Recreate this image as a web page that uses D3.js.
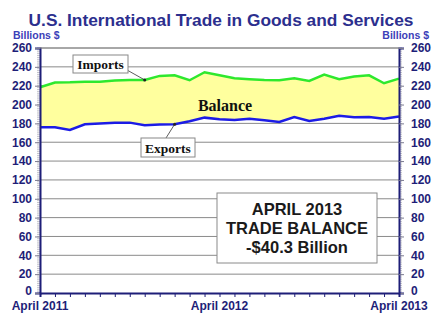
<!DOCTYPE html>
<html><head><meta charset="utf-8">
<script src="https://cdn.jsdelivr.net/npm/d3@7/dist/d3.min.js"></script>
<style>body{margin:0;background:#fff}svg{display:block}</style>
</head><body>
<svg id="c" width="442" height="323"></svg>
<script>
const months = ["Apr 2011","May 2011","Jun 2011","Jul 2011","Aug 2011","Sep 2011","Oct 2011","Nov 2011","Dec 2011",
  "Jan 2012","Feb 2012","Mar 2012","Apr 2012","May 2012","Jun 2012","Jul 2012","Aug 2012","Sep 2012","Oct 2012",
  "Nov 2012","Dec 2012","Jan 2013","Feb 2013","Mar 2013","Apr 2013"];
const imports = [218.4,223.3,223.6,224.3,224.3,225.4,226.1,226.1,230.4,231.1,225.8,234.3,231.0,227.9,226.9,226.1,225.8,227.9,225.0,231.8,226.9,229.7,231.0,222.6,227.5];
const exports = [175.9,175.9,173.0,179.1,179.8,180.8,180.8,178.0,178.7,179.1,182.3,186.1,184.4,183.6,185.0,183.3,181.5,186.8,182.6,185.0,188.2,186.5,186.8,185.0,187.2];
const yTicks = [0,20,40,60,80,100,120,140,160,180,200,220,240,260];
const xLabels = [{m:"Apr 2011",t:"April 2011"},{m:"Apr 2012",t:"April 2012"},{m:"Apr 2013",t:"April 2013"}];
const titleText = "U.S. International Trade in Goods and Services";
const unitText = "Billions $";
const boxLines = ["APRIL 2013","TRADE BALANCE","-$40.3 Billion"];

const svg = d3.select("#c");
const L = 40, R = 399, T = 48, B = 293;
const x = d3.scalePoint().domain(months).range([L, R]);
const y = d3.scaleLinear().domain([0, 260]).range([B, T]);
const navy = "#1e1e78";

// title
const title = svg.append("text").attr("x", 221).attr("y", 26).attr("text-anchor", "middle")
  .attr("font-family", "Liberation Sans, Arial, sans-serif").attr("font-weight", "bold")
  .attr("font-size", 18).attr("fill", "#2c2f8e").text(titleText);
const tw = title.node().getComputedTextLength();
title.attr("font-size", 18 * 385 / tw);

// units
svg.append("text").attr("x", 13).attr("y", 39).attr("font-family", "Liberation Sans, Arial, sans-serif")
  .attr("font-weight", "bold").attr("font-size", 10.5).attr("fill", "#3b40b8").text(unitText);
svg.append("text").attr("x", 429).attr("y", 39).attr("text-anchor", "end").attr("font-family", "Liberation Sans, Arial, sans-serif")
  .attr("font-weight", "bold").attr("font-size", 10.5).attr("fill", "#3b40b8").text(unitText);

// gridlines
svg.append("g").selectAll("line").data(yTicks.filter(d => d > 0)).join("line")
  .attr("x1", L).attr("x2", R).attr("y1", d => y(d)).attr("y2", d => y(d))
  .attr("stroke", "#8a8a8a").attr("stroke-width", 1);

// area
svg.append("path").datum(months.map((m, i) => ({m, i})))
  .attr("d", d3.area().x(d => x(d.m)).y0(d => y(exports[d.i])).y1(d => y(imports[d.i])))
  .attr("fill", "#ffff9e");

// lines
svg.append("path").datum(months.map((m, i) => ({m, v: imports[i]})))
  .attr("d", d3.line().x(d => x(d.m)).y(d => y(d.v)))
  .attr("fill", "none").attr("stroke", "#2ee82e").attr("stroke-width", 2.5);
svg.append("path").datum(months.map((m, i) => ({m, v: exports[i]})))
  .attr("d", d3.line().x(d => x(d.m)).y(d => y(d.v)))
  .attr("fill", "none").attr("stroke", "#1c1ce6").attr("stroke-width", 2.5);

// minor ticks on y axes
const minor = d3.range(0, 261, 2);
svg.append("g").selectAll("line").data(minor).join("line")
  .attr("x1", L - 3).attr("x2", L).attr("y1", d => y(d)).attr("y2", d => y(d))
  .attr("stroke", "#9a9aa8").attr("stroke-width", 0.6);
svg.append("g").selectAll("line").data(minor).join("line")
  .attr("x1", R).attr("x2", R + 3).attr("y1", d => y(d)).attr("y2", d => y(d))
  .attr("stroke", "#9a9aa8").attr("stroke-width", 0.6);

// axes
const fontAx = "Liberation Sans, Arial, sans-serif";
const leftAxis = svg.append("g").attr("transform", `translate(${L},0)`)
  .call(d3.axisLeft(y).tickValues(yTicks).tickSize(5).tickPadding(3));
const rightAxis = svg.append("g").attr("transform", `translate(${R},0)`)
  .call(d3.axisRight(y).tickValues(yTicks).tickSize(5).tickPadding(7));
[leftAxis, rightAxis].forEach(g => {
  g.select(".domain").attr("stroke", navy).attr("stroke-width", 2);
  g.selectAll(".tick line").attr("stroke", "#7a7a90");
  g.selectAll(".tick text").attr("font-family", fontAx).attr("font-weight", "bold")
    .attr("font-size", 12).attr("fill", navy);
  g.selectAll(".tick").filter(d => d === 0).select("text").attr("dy", "0.1em");
});
const bottomAxis = svg.append("g").attr("transform", `translate(0,${B})`)
  .call(d3.axisBottom(x).tickValues(months).tickSize(4).tickFormat(""));
bottomAxis.select(".domain").attr("stroke", navy).attr("stroke-width", 2);
bottomAxis.selectAll(".tick line").attr("stroke", navy);
svg.append("g").selectAll("text").data(xLabels).join("text")
  .attr("x", d => x(d.m)).attr("y", 310).attr("text-anchor", "middle")
  .attr("font-family", fontAx).attr("font-weight", "bold").attr("font-size", 12).attr("fill", navy)
  .text(d => d.t);

// plot top border
svg.append("line").attr("x1", L).attr("x2", R).attr("y1", T).attr("y2", T).attr("stroke", "#8a8a8a");

// callouts
const serif = "Liberation Serif, Times New Roman, serif";
function callout(bx, by, bw, bh, label, lx1, ly1, mIdx, series) {
  const px = x(months[mIdx]), py = y(series[mIdx]);
  svg.append("line").attr("x1", lx1).attr("y1", ly1).attr("x2", px).attr("y2", py)
    .attr("stroke", "#333").attr("stroke-width", 0.8);
  svg.append("circle").attr("cx", px).attr("cy", py).attr("r", 1.5).attr("fill", "#222");
  svg.append("rect").attr("x", bx).attr("y", by).attr("width", bw).attr("height", bh)
    .attr("fill", "#fff").attr("stroke", "#888").attr("stroke-width", 1);
  svg.append("text").attr("x", bx + bw / 2).attr("y", by + bh - 4.5).attr("text-anchor", "middle")
    .attr("font-family", serif).attr("font-weight", "bold").attr("font-size", 13.5).attr("fill", "#111")
    .text(label);
}
callout(73, 55, 55, 18, "Imports", 127, 70, 7, imports);
callout(141, 138, 54, 19, "Exports", 166, 138, 9, exports);

svg.append("text").attr("x", 225).attr("y", 111).attr("text-anchor", "middle")
  .attr("font-family", serif).attr("font-weight", "bold").attr("font-size", 16).attr("fill", "#111")
  .text("Balance");

// annotation box
svg.append("rect").attr("x", 217).attr("y", 193).attr("width", 160).attr("height", 70)
  .attr("fill", "#fff").attr("stroke", "#8a8a8a").attr("stroke-width", 1);
svg.append("g").selectAll("text").data(boxLines).join("text")
  .attr("x", 297).attr("y", (d, i) => 215 + i * 19).attr("text-anchor", "middle")
  .attr("font-family", fontAx).attr("font-weight", "bold").attr("font-size", 16.5).attr("fill", "#1a1a1a")
  .text(d => d);
</script>
</body></html>
